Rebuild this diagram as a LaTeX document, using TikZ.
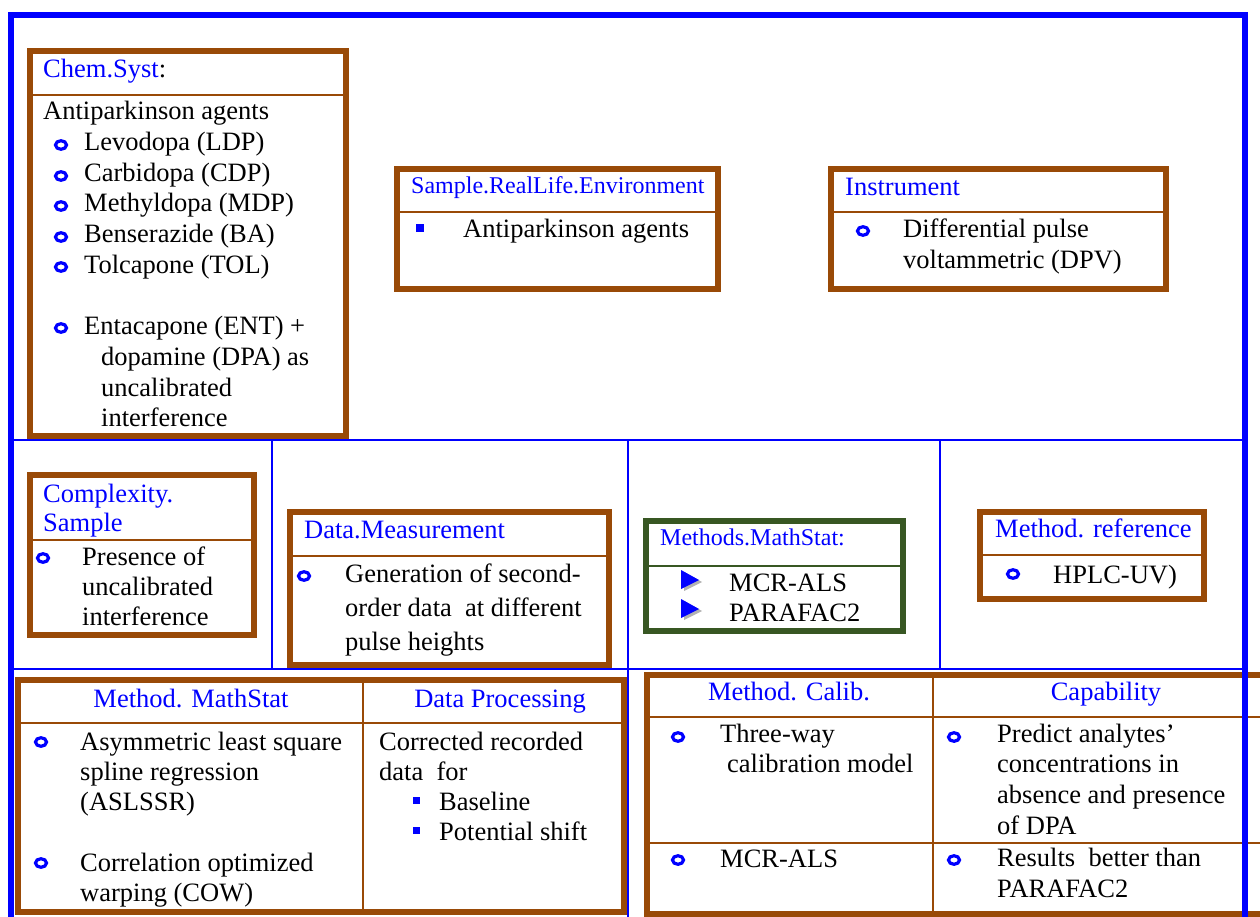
\documentclass[tikz,border=0pt]{standalone}
\usepackage{fontspec}
\setmainfont{Liberation Serif}
\definecolor{frameblue}{RGB}{0,0,255}
\definecolor{boxbrown}{RGB}{153,74,7}
\definecolor{boxgreen}{RGB}{56,87,35}
\tikzset{
  frameline/.style={draw=frameblue, line width=6pt},
  gridline/.style={draw=frameblue, line width=2pt},
  boxline/.style={draw=boxbrown, line width=6pt},
  sepline/.style={draw=boxbrown, line width=2pt},
  txt/.style={anchor=base west, inner sep=0pt, font=\fontsize{26.5}{30.5}\selectfont},
  ttl/.style={txt, text=frameblue},
  smallttl/.style={ttl, font=\fontsize{24}{28}\selectfont},
  hdr/.style={ttl, anchor=base},
  ringbul/.style={draw=frameblue, line width=3.2pt},
  sqbul/.style={fill=frameblue},
}
\begin{document}
\begin{tikzpicture}[x=1pt,y=-1pt]
    \useasboundingbox (0,0) rectangle (1260,917);
    \clip (0,0) rectangle (1260,917);

    % Chem.Syst box
    \draw[boxline] (30,51) rectangle (346,436);
    \draw[sepline] (30,95) -- (346,95);
    \node[ttl] (chemttl) at (43,78) {Chem.Syst\textcolor{black}{:}};
    \node[txt] (chem0) at (43,120) {Antiparkinson agents};
    \draw[ringbul] (61,145) ellipse [x radius=5.5, y radius=4.3]; \node[txt] (chem1) at (84,151) {Levodopa (LDP)};
    \draw[ringbul] (61,176) ellipse [x radius=5.5, y radius=4.3]; \node[txt] (chem2) at (84,182) {Carbidopa (CDP)};
    \draw[ringbul] (61,206) ellipse [x radius=5.5, y radius=4.3]; \node[txt] (chem3) at (84,212) {Methyldopa (MDP)};
    \draw[ringbul] (61,237) ellipse [x radius=5.5, y radius=4.3]; \node[txt] (chem4) at (84,243) {Benserazide (BA)};
    \draw[ringbul] (61,267) ellipse [x radius=5.5, y radius=4.3]; \node[txt] (chem5) at (84,273) {Tolcapone (TOL)};
    \draw[ringbul] (61,328) ellipse [x radius=5.5, y radius=4.3]; \node[txt] (chem6) at (84,334) {Entacapone (ENT) +};
    \node[txt] (chem7) at (101,365) {dopamine (DPA) as};
    \node[txt] (chem8) at (101,396) {uncalibrated};
    \node[txt] (chem9) at (101,426) {interference};

    % Sample box
    \draw[boxline] (397,169) rectangle (718,289);
    \draw[sepline] (397,212) -- (718,212);
    \node[smallttl] (sampttl) at (411,194) {Sample.RealLife.Environment};
    \fill[sqbul] (416,224) rectangle (424,232); \node[txt] (samp1) at (463,238) {Antiparkinson agents};

    % Instrument box
    \draw[boxline] (831,169) rectangle (1166,289);
    \draw[sepline] (831,212) -- (1166,212);
    \node[ttl] (instttl) at (845,196) {Instrument};
    \draw[ringbul] (863,231) ellipse [x radius=5.5, y radius=4.3]; \node[txt] (inst1) at (903,238) {Differential pulse};
    \node[txt] (inst2) at (903,269) {voltammetric (DPV)};

    % Complexity box
    \draw[boxline] (30,475) rectangle (254,635);
    \draw[sepline] (30,540) -- (254,540);
    \node[ttl] (cplxttl) at (43,502) {Complexity.};
    \node[ttl] (cplxttlb) at (43,531) {Sample};
    \draw[ringbul] (43,558) ellipse [x radius=5.5, y radius=4.3]; \node[txt] (cplx1) at (82,565) {Presence of};
    \node[txt] (cplx2) at (82,595) {uncalibrated};
    \node[txt] (cplx3) at (82,625) {interference};

    % Data.Measurement box
    \draw[boxline] (290,512) rectangle (609,665);
    \draw[sepline] (290,556) -- (609,556);
    \node[ttl] (measttl) at (304,538) {Data.Measurement};
    \draw[ringbul] (304,576) ellipse [x radius=5.5, y radius=4.3]; \node[txt] (meas1) at (345,582) {Generation of second-};
    \node[txt] (meas2) at (345,616) {order data\ \ at different};
    \node[txt] (meas3) at (345,650) {pulse heights};

    % Methods.MathStat box
    \draw[boxline, draw=boxgreen] (646,521) rectangle (903,631);
    \draw[sepline, draw=boxgreen] (646,566) -- (903,566);
    \node[smallttl] (mathttl) at (660,545) {Methods.MathStat:};
    \fill[gray!60] (684,572) -- (684,591) -- (702,582) -- cycle;
    \fill[frameblue] (681,570) -- (681,589) -- (699,580) -- cycle;
    \node[txt] (math1) at (729,591) {MCR-ALS};
    \fill[gray!60] (684,601) -- (684,620) -- (702,611) -- cycle;
    \fill[frameblue] (681,599) -- (681,618) -- (699,609) -- cycle;
    \node[txt] (math2) at (729,621) {PARAFAC2};

    % Method reference box
    \draw[boxline] (980,512) rectangle (1204,599);
    \draw[sepline] (980,555) -- (1204,555);
    \node[ttl] (refttl) at (995,537) {Method. reference};
    \draw[ringbul] (1013,574) ellipse [x radius=5.5, y radius=4.3]; \node[txt] (ref1) at (1053,583) {HPLC-UV)};

    % Bottom left table
    \draw[boxline] (18,680) rectangle (624,912);
    \draw[sepline] (18,723) -- (624,723);
    \draw[sepline] (363,680) -- (363,912);
    \node[hdr] (procttla) at (191,707) {Method. MathStat};
    \node[hdr] (procttlb) at (500,707) {Data Processing};
    \draw[ringbul] (41,742) ellipse [x radius=5.5, y radius=4.3]; \node[txt] (proc1) at (80,750) {Asymmetric least square};
    \node[txt] (proc2) at (80,780) {spline regression};
    \node[txt] (proc3) at (80,810) {(ASLSSR)};
    \draw[ringbul] (41,863) ellipse [x radius=5.5, y radius=4.3]; \node[txt] (proc4) at (80,871) {Correlation optimized};
    \node[txt] (proc5) at (80,901) {warping (COW)};
    \node[txt] (proc6) at (379,750) {Corrected recorded};
    \node[txt] (proc7) at (379,780) {data\ \ for};
    \fill[sqbul] (413,797) rectangle (420,804); \node[txt] (proc8) at (439,810) {Baseline};
    \fill[sqbul] (413,827) rectangle (420,834); \node[txt] (proc9) at (439,840) {Potential shift};

    % Bottom right table
    \draw[boxline] (647,675) rectangle (1268,914);
    \draw[sepline] (647,717) -- (1268,717);
    \draw[sepline] (647,843) -- (1268,843);
    \draw[sepline] (933,675) -- (933,914);
    \node[hdr] (calttla) at (789,700) {Method. Calib.};
    \node[hdr] (calttlb) at (1106,700) {Capability};
    \draw[ringbul] (678,737) ellipse [x radius=5.5, y radius=4.3]; \node[txt] (cal1) at (720,742) {Three-way};
    \node[txt] (cal2) at (727,772) {calibration model};
    \draw[ringbul] (678,860) ellipse [x radius=5.5, y radius=4.3]; \node[txt] (cal3) at (720,867) {MCR-ALS};
    \draw[ringbul] (954,737) ellipse [x radius=5.5, y radius=4.3]; \node[txt] (cap1) at (997,742) {Predict analytes’};
    \node[txt] (cap2) at (997,772) {concentrations in};
    \node[txt] (cap3) at (997,803) {absence and presence};
    \node[txt] (cap4) at (997,834) {of DPA};
    \draw[ringbul] (954,860) ellipse [x radius=5.5, y radius=4.3]; \node[txt] (cap5) at (997,866) {Results\ \ better than};
    \node[txt] (cap6) at (997,897) {PARAFAC2};

    % Blue frame and grid
    \draw[gridline] (11,440) -- (1245,440);
    \draw[gridline] (11,669) -- (1245,669);
    \draw[gridline] (272,440) -- (272,669);
    \draw[gridline] (940,440) -- (940,669);
    \draw[gridline] (628,440) -- (628,917);
    \draw[frameline] (11,930) -- (11,15) -- (1245,15) -- (1245,930);
\end{tikzpicture}
\end{document}
